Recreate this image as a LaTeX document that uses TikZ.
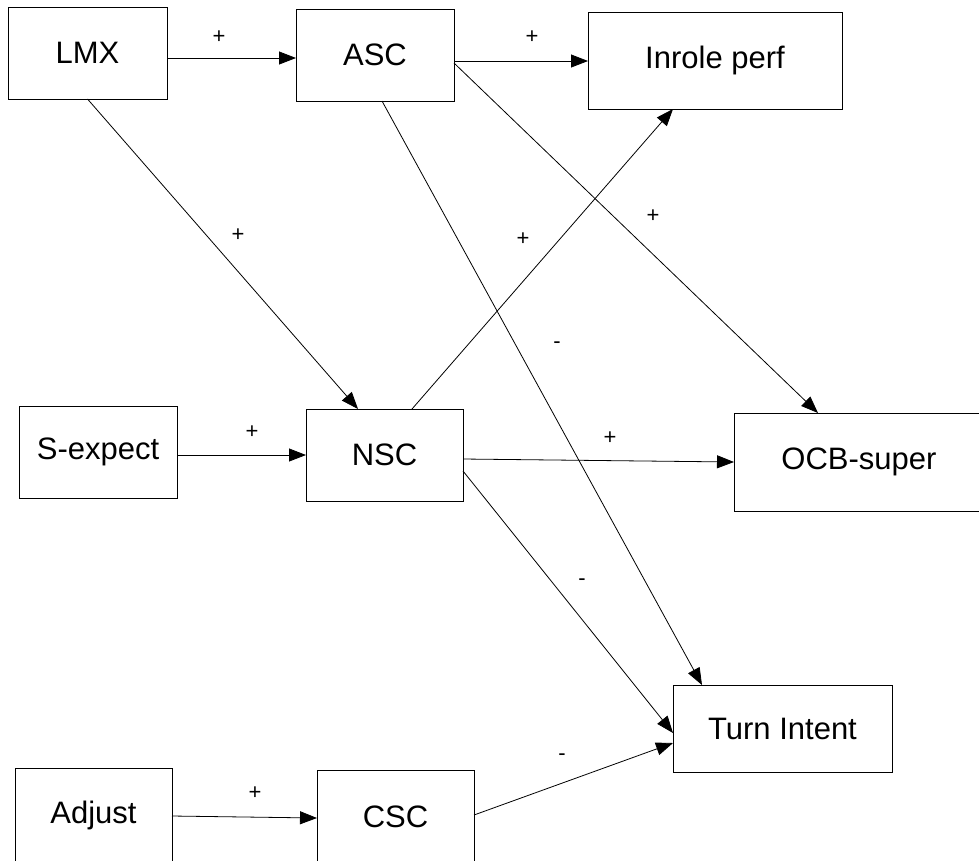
\documentclass[tikz,border=0pt]{standalone}
\usepackage{fontspec}
\setmainfont{Liberation Sans}
\usetikzlibrary{arrows.meta}
\begin{document}
\begin{tikzpicture}[x=1pt,y=-1pt,
  box/.style={draw, line width=1pt, inner sep=0pt, outer sep=0pt, font=\fontsize{31}{36}\selectfont},
  conn/.style={line width=0.8pt, -{Triangle[length=17pt,width=13pt]}},
  sign/.style={font=\fontsize{22}{24}\selectfont, inner sep=0pt}]
\useasboundingbox (0,0) rectangle (979,860);
\clip (0,0) rectangle (979,860);
\fill[white] (0,0) rectangle (979,860);
% boxes
\node[box, minimum width=159pt, minimum height=92pt] (lmx) at (87.5,53) {LMX};
\node[box, minimum width=158pt, minimum height=92pt] (asc) at (375,55) {ASC};
\node[box, minimum width=254pt, minimum height=97pt] (inrole) at (715,60.5) {Inrole perf};
\node[box, minimum width=158pt, minimum height=92pt] (sexp) at (98,452) {S-expect};
\node[box, minimum width=157pt, minimum height=92pt] (nsc) at (384.5,455) {NSC};
\node[box, minimum width=250pt, minimum height=98pt] (ocb) at (859,462) {OCB-super};
\node[box, minimum width=219pt, minimum height=87pt] (turn) at (782.5,728.5) {Turn Intent};
\node[box, minimum width=157pt, minimum height=94pt] (adjust) at (93.5,815) {Adjust};
\node[box, minimum width=157pt, minimum height=94pt] (csc) at (395.5,817) {CSC};
% connectors
\draw[conn] ([yshift=-5pt]lmx.east) -- ([yshift=-3pt]asc.west);
\draw[conn] ([yshift=-6pt]asc.east) -- ([yshift=-0.5pt]inrole.west);
\draw[conn] (lmx.south) -- ([xshift=-26.5pt]nsc.north);
\draw[conn] ([xshift=7pt]asc.south) -- ([xshift=-80.5pt]turn.north);
\draw[conn] ([yshift=-8pt]asc.east) -- ([xshift=-41pt]ocb.north);
\draw[conn] ([xshift=27.5pt]nsc.north) -- ([xshift=-42pt]inrole.south);
\draw[conn] ([yshift=-3pt]sexp.east) -- (nsc.west);
\draw[conn] ([yshift=-4pt]nsc.east) -- (ocb.west);
\draw[conn] ([yshift=-16pt]nsc.east) -- ([yshift=-4.5pt]turn.west);
\draw[conn] ([yshift=-1pt]adjust.east) -- ([yshift=-1pt]csc.west);
\draw[conn] ([yshift=2pt]csc.east) -- ([yshift=-14.5pt]turn.west);
% signs
\node[sign] (l1) at (219,37) {+};
\node[sign] (l2) at (532,37) {+};
\node[sign] (l3) at (238,235) {+};
\node[sign] (l4) at (523,239) {+};
\node[sign] (l5) at (653,216) {+};
\node[sign] (l6) at (557,345) {-};
\node[sign] (l7) at (252,432) {+};
\node[sign] (l8) at (610,438) {+};
\node[sign] (l9) at (582,582) {-};
\node[sign] (l10) at (562,757) {-};
\node[sign] (l11) at (255,793) {+};
\end{tikzpicture}
\end{document}
